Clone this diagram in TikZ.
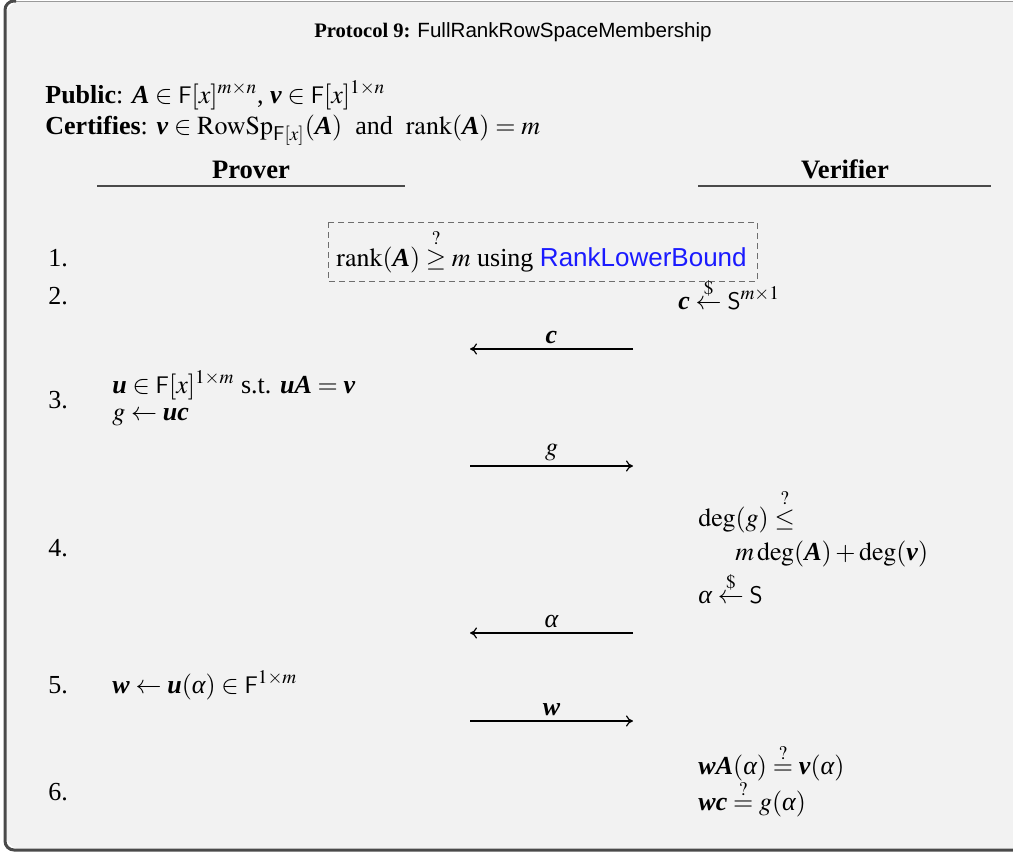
\documentclass[tikz,border=0pt]{standalone}
\usepackage{amsmath}
\usepackage{mathptmx}
\usepackage{fontspec}
\setmainfont{Liberation Serif}
\setsansfont{Liberation Sans}
\usetikzlibrary{arrows.meta}
\definecolor{framebg}{HTML}{F2F2F2}
\definecolor{framedark}{HTML}{4A4A4A}
\definecolor{framelight}{HTML}{9A9A9A}
\definecolor{linkblue}{HTML}{1A1AFF}
\newcommand{\vb}[1]{\textbf{\textit{#1}}}
\newcommand{\Fld}{\mathsf{F}}
\newcommand{\Sset}{\mathsf{S}}
\newcommand{\alp}{\textit{α}}
\tikzset{
  txt/.style={anchor=base west, inner sep=0pt, font=\fontsize{13pt}{15pt}\selectfont},
  num/.style={anchor=base west, inner sep=0pt, font=\fontsize{13pt}{15pt}\selectfont},
  role/.style={anchor=base, inner sep=0pt, font=\fontsize{13.3pt}{15pt}\selectfont\bfseries},
  roleline/.style={draw=framedark, line width=0.6pt},
  msg/.style={-{To[length=3.5pt,width=5.5pt]}, line width=0.6pt, black},
  msglabel/.style={above, inner sep=2.5pt, font=\fontsize{13pt}{15pt}\selectfont},
  subbox/.style={draw=framedark!80, dashed, dash pattern=on 3pt off 2pt, line width=0.5pt}
}
\begin{document}
\begin{tikzpicture}[x=0.5pt,y=-0.5pt]
\useasboundingbox (0,0) rectangle (1013,852);
\clip (0,0) rectangle (1013,852);
% frame
\fill[framebg, rounded corners=9pt] (5,1) rectangle (1040,850);
\draw[framelight, line width=0.5pt] (12,1) -- (1013,1);
\draw[framedark, line width=1.5pt, rounded corners=4.5pt] (16,1) -- (5,1) -- (5,850) -- (1013,850);
% title
\node[anchor=base, inner sep=0pt, font=\fontsize{10.3pt}{12pt}\selectfont] (title) at (513,37)
  {\textbf{Protocol 9:} \textsf{FullRankRowSpaceMembership}};
% public / certifies
\node[txt] (public) at (45,103) {\textbf{Public}: $\vb{A} \in \Fld[x]^{m\times n}$, $\vb{v} \in \Fld[x]^{1\times n}$};
\node[txt] (cert) at (45,134) {\textbf{Certifies}: $\vb{v} \in \mathrm{RowSp}_{\Fld[x]}(\vb{A})$\ \ and\ \ $\mathrm{rank}(\vb{A}) = m$};
% roles
\node[role] (prover) at (251,178) {Prover};
\node[role] (verifier) at (845,178) {Verifier};
\coordinate (pl1) at (97,186); \coordinate (pl2) at (405,186);
\coordinate (vl1) at (698,186); \coordinate (vl2) at (991,186);
\draw[roleline] (pl1) -- (pl2);
\draw[roleline] (vl1) -- (vl2);
% step numbers
\node[num] (n1) at (48,266) {1.};
\node[num] (n2) at (48,304) {2.};
\node[num] (n3) at (48,408) {3.};
\node[num] (n4) at (48,556) {4.};
\node[num] (n5) at (48,693) {5.};
\node[num] (n6) at (48,800) {6.};
% step 1
\coordinate (b1) at (328,222); \coordinate (b2) at (757,281);
\draw[subbox] (b1) rectangle (b2);
\node[txt] (s1) at (336,266) {$\mathrm{rank}(\vb{A}) \overset{?}{\geq} m$ using \textcolor{linkblue}{\textsf{RankLowerBound}}};
% step 2
\node[txt] (s2) at (678,309) {$\vb{c} \overset{\$}{\leftarrow} \Sset^{m\times 1}$};
\coordinate (cR) at (633,349); \coordinate (cL) at (470,349);
\draw[msg] (cR) -- node[msglabel] (lc) {$\vb{c}$} (cL);
% step 3
\node[txt] (s3a) at (112,393) {$\vb{u} \in \Fld[x]^{1\times m}$ s.t. $\vb{u}\vb{A} = \vb{v}$};
\node[txt] (s3b) at (112,420) {$g \leftarrow \vb{u}\vb{c}$};
\coordinate (gL) at (470,466); \coordinate (gR) at (633,466);
\draw[msg] (gL) -- node[msglabel] (lg) {$g$} (gR);
% step 4
\node[txt] (s4a) at (698,526) {$\deg(g) \overset{?}{\leq}$};
\node[txt] (s4b) at (735,560) {$m\deg(\vb{A}) + \deg(\vb{v})$};
\node[txt] (s4c) at (698,603) {$\alp \overset{\$}{\leftarrow} \Sset$};
\coordinate (aR) at (633,633); \coordinate (aL) at (470,633);
\draw[msg] (aR) -- node[msglabel] (la) {$\alp$} (aL);
% step 5
\node[txt] (s5) at (112,693) {$\vb{w} \leftarrow \vb{u}(\alp) \in \Fld^{1\times m}$};
\coordinate (wL) at (470,721); \coordinate (wR) at (633,721);
\draw[msg] (wL) -- node[msglabel] (lw) {$\vb{w}$} (wR);
% step 6
\node[txt] (s6a) at (698,774) {$\vb{w}\vb{A}(\alp) \overset{?}{=} \vb{v}(\alp)$};
\node[txt] (s6b) at (698,810) {$\vb{w}\vb{c} \overset{?}{=} g(\alp)$};
\end{tikzpicture}
\end{document}
